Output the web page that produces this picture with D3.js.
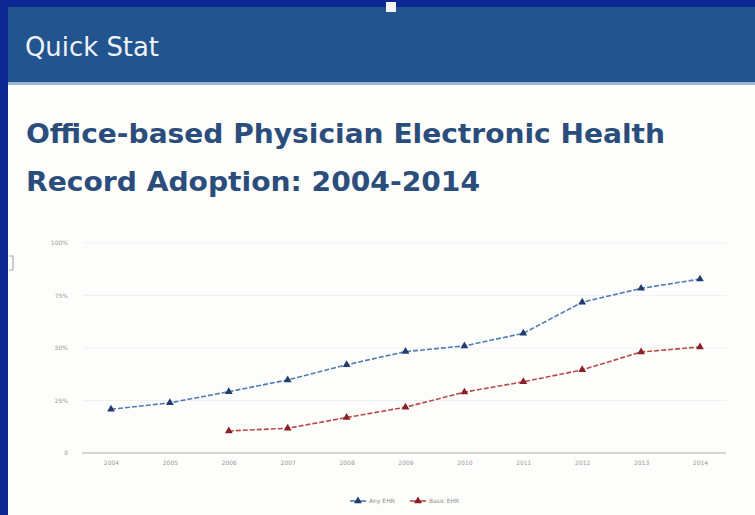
<!DOCTYPE html>
<html>
<head>
<meta charset="utf-8">
<script src="https://cdn.jsdelivr.net/npm/d3@7"></script>
<style>
  body { margin: 0; background: #0c2792; }
  svg { display: block; }
</style>
</head>
<body>
<div id="chart"></div>
<script>
const years = [2004, 2005, 2006, 2007, 2008, 2009, 2010, 2011, 2012, 2013, 2014];
const anyEhr = [20.8, 23.9, 29.2, 34.8, 42.0, 48.3, 51.0, 57.0, 71.8, 78.4, 82.8];
const basicEhr = [null, null, 10.5, 11.8, 16.9, 21.8, 29.0, 33.9, 39.6, 48.1, 50.5];
const yTicks = [0, 25, 50, 75, 100];
const seriesNames = ['Any EHR', 'Basic EHR'];

const W = 755, H = 515;
const svg = d3.select('#chart').append('svg')
  .attr('width', W)
  .attr('height', H);

// slide frame
svg.append('rect').attr('x', 0).attr('y', 0).attr('width', W).attr('height', H).attr('fill', '#0c2792');
svg.append('rect').attr('x', 8).attr('y', 7).attr('width', W - 8).attr('height', 77).attr('fill', '#22548f');
svg.append('rect').attr('x', 8).attr('y', 82).attr('width', W - 8).attr('height', 3).attr('fill', '#9fb9d3');
svg.append('rect').attr('x', 8).attr('y', 85).attr('width', W - 8).attr('height', H - 85).attr('fill', '#fdfdfb');
svg.append('rect').attr('x', 386).attr('y', 2).attr('width', 10).attr('height', 10).attr('fill', '#f4f4f4');

svg.append('text')
  .attr('x', 25).attr('y', 56)
  .attr('fill', '#eef2f8')
  .style('font-family', 'DejaVu Sans Condensed, DejaVu Sans')
  .style('font-size', '27px')
  .attr('textLength', 134)
  .attr('lengthAdjust', 'spacingAndGlyphs')
  .text('Quick Stat');

const titleLines = ['Office-based Physician Electronic Health', 'Record Adoption: 2004-2014'];
const titleWidths = [639, 454];
svg.selectAll('.title')
  .data(titleLines)
  .enter().append('text')
  .attr('class', 'title')
  .attr('x', 26)
  .attr('y', (d, i) => 143 + i * 48)
  .attr('fill', '#2b4d7c')
  .attr('textLength', (d, i) => titleWidths[i])
  .attr('lengthAdjust', 'spacingAndGlyphs')
  .style('font-family', 'DejaVu Sans Condensed, DejaVu Sans')
  .style('font-weight', 'bold')
  .style('font-size', '27px')
  .text(d => d);

// chart
const x = d3.scalePoint()
  .domain(years)
  .range([111, 700]);
const y = d3.scaleLinear()
  .domain([0, 100])
  .range([453, 243]);

const grid = svg.append('g');
grid.selectAll('line')
  .data(yTicks.filter(d => d > 0))
  .enter().append('line')
  .attr('x1', 84).attr('x2', 726)
  .attr('y1', d => y(d)).attr('y2', d => y(d))
  .attr('stroke', '#eef0f2')
  .attr('stroke-width', 1);

svg.append('g')
  .attr('transform', 'translate(0,453)')
  .call(d3.axisBottom(x).tickSize(0).tickPadding(8))
  .call(g => g.select('.domain').attr('d', 'M82,0H726').attr('stroke', '#c8c8c8').attr('stroke-width', 1.5))
  .call(g => g.selectAll('text').attr('fill', '#9a9a9a').style('font-size', '6px').style('font-family', 'DejaVu Sans'));

svg.append('g')
  .attr('transform', 'translate(71,0)')
  .call(d3.axisLeft(y).tickValues(yTicks).tickSize(0).tickFormat(d => d === 0 ? '0' : d + '%'))
  .call(g => g.select('.domain').remove())
  .call(g => g.selectAll('text').attr('fill', '#9a9a9a').style('font-size', '6px').style('font-family', 'DejaVu Sans'));

const series = [
  { name: seriesNames[0], values: anyEhr, line: '#4f7cb2', mark: '#1e3c6e' },
  { name: seriesNames[1], values: basicEhr, line: '#b94a4a', mark: '#8a1f25' }
];

const line = d3.line()
  .defined(d => d.v != null)
  .x(d => x(d.year))
  .y(d => y(d.v));

const tri = d3.symbol().type(d3.symbolTriangle).size(26);

series.forEach(s => {
  const pts = years.map((year, i) => ({ year, v: s.values[i] }));
  svg.append('path')
    .datum(pts)
    .attr('d', line)
    .attr('fill', 'none')
    .attr('stroke', s.line)
    .attr('stroke-width', 1.6)
    .attr('stroke-dasharray', '5,2');
  svg.selectAll(null)
    .data(pts.filter(d => d.v != null))
    .enter().append('path')
    .attr('d', tri)
    .attr('transform', d => `translate(${x(d.year)},${y(d.v)})`)
    .attr('fill', s.mark);
});

// legend
const legend = svg.append('g').attr('transform', 'translate(350,501)');
series.forEach((s, i) => {
  const g = legend.append('g').attr('transform', `translate(${i * 60},0)`);
  g.append('line').attr('x1', 0).attr('x2', 16).attr('y1', 0).attr('y2', 0)
    .attr('stroke', s.line).attr('stroke-width', 1.6);
  g.append('path').attr('d', tri).attr('transform', 'translate(8,0)').attr('fill', s.mark);
  g.append('text').attr('x', 19).attr('y', 2)
    .attr('fill', '#8a8a8a')
    .style('font-size', '6px')
    .style('font-family', 'DejaVu Sans')
    .text(s.name);
});

// small bracket mark at left edge of panel
svg.append('path')
  .attr('d', 'M9,256H13V270H9')
  .attr('fill', 'none')
  .attr('stroke', '#b0b0b0')
  .attr('stroke-width', 1.2);
</script>
</body>
</html>
